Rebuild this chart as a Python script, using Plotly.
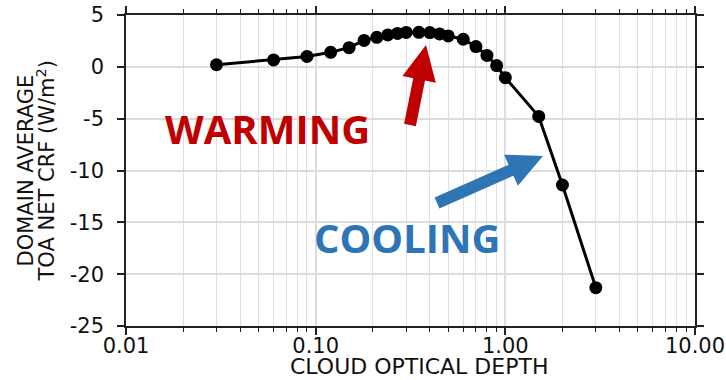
import math
import plotly.graph_objects as go

# ---- data ----
optical_depth = [0.03, 0.06, 0.09, 0.12, 0.15, 0.18, 0.21, 0.24, 0.27, 0.30,
                 0.35, 0.40, 0.45, 0.50, 0.60, 0.70, 0.80, 0.90, 1.0, 1.5, 2.0, 3.0]
net_crf = [0.2, 0.67, 1.0, 1.4, 1.85, 2.55, 2.85, 3.08, 3.22, 3.32,
           3.33, 3.3, 3.17, 2.98, 2.66, 1.95, 1.1, 0.12, -1.05, -4.78, -11.4, -21.3]
x_tickvals = [0.01, 0.1, 1.0, 10.0]
x_ticktext = ["0.01", "0.10", "1.00", "10.00"]
y_tickvals = [5, 0, -5, -10, -15, -20, -25]
y_ticktext = ["5", "0", "-5", "-10", "-15", "-20", "-25"]

# ---- layout geometry (pixels) ----
W, H = 726, 380
L, R, T, B = 126, 695, 15, 326


def px2paper(px, py):
    return (px - L) / (R - L), (B - py) / (B - T)


def arrow_path(tail, tip, shaft_hw=6, head_hw=17, head_len=35):
    dx, dy = tip[0] - tail[0], tip[1] - tail[1]
    ln = math.hypot(dx, dy)
    ux, uy = dx / ln, dy / ln
    nx, ny = -uy, ux
    bx, by = tip[0] - head_len * ux, tip[1] - head_len * uy
    pts = [
        (tail[0] + shaft_hw * nx, tail[1] + shaft_hw * ny),
        (bx + shaft_hw * nx, by + shaft_hw * ny),
        (bx + head_hw * nx, by + head_hw * ny),
        tip,
        (bx - head_hw * nx, by - head_hw * ny),
        (bx - shaft_hw * nx, by - shaft_hw * ny),
        (tail[0] - shaft_hw * nx, tail[1] - shaft_hw * ny),
    ]
    pp = [px2paper(*p) for p in pts]
    return "M " + " L ".join(f"{a:.5f},{b:.5f}" for a, b in pp) + " Z"


fig = go.Figure()
fig.add_trace(go.Scatter(
    x=optical_depth, y=net_crf, mode="lines+markers",
    line=dict(color="black", width=3),
    marker=dict(color="black", size=13),
    showlegend=False,
))

tick_font = dict(family="DejaVu Sans", size=21, color="#111111")

fig.update_xaxes(
    type="log", range=[-2, 1],
    tickvals=x_tickvals, ticktext=x_ticktext,
    ticks="outside", ticklen=7, tickwidth=1.5, tickcolor="#222",
    showline=True, linecolor="#222", linewidth=1.5, mirror="allticks",
    showgrid=True, gridcolor="#dcdcdc", gridwidth=1.5,
    minor=dict(ticks="outside", ticklen=4, tickwidth=1, tickcolor="#222",
               showgrid=True, gridcolor="#e0e0e0", gridwidth=1.3,
               dtick="D1"),
    tickfont=tick_font, zeroline=False, ticklabelstandoff=-7,
)
fig.update_yaxes(
    range=[-25, 5], tickvals=y_tickvals, ticktext=y_ticktext,
    ticks="outside", ticklen=7, tickwidth=1.5, tickcolor="#222",
    showline=True, linecolor="#222", linewidth=1.5, mirror="allticks",
    showgrid=True, gridcolor="#dcdcdc", gridwidth=1.5,
    tickfont=tick_font, zeroline=False, ticklabelstandoff=9,
)

# x-axis title
xtx, xty = px2paper(419, 380)
fig.add_annotation(x=xtx, y=xty, xref="paper", yref="paper", showarrow=False,
                   text="CLOUD OPTICAL DEPTH",
                   font=dict(family="DejaVu Sans", size=22, color="#111111"),
                   xanchor="center", yanchor="bottom", borderpad=0)

# y-axis title, two rotated lines centred on the axis
ymid = (T + B) / 2
title_font = dict(family="DejaVu Sans", size=21, color="#111111")
for text, px in [("DOMAIN AVERAGE", 25), ("TOA NET CRF (W/m<sup>2</sup>)", 45)]:
    ax_, ay_ = px2paper(px, ymid)
    fig.add_annotation(x=ax_, y=ay_, xref="paper", yref="paper", showarrow=False,
                       text=text, textangle=-90, font=title_font,
                       xanchor="center", yanchor="middle")

# labels
wx, wy = px2paper(267, 128)
fig.add_annotation(x=wx, y=wy, xref="paper", yref="paper", showarrow=False,
                   text="<b>WARMING</b>", xanchor="center", yanchor="middle",
                   font=dict(family="Open Sans", size=40, color="#C00000"))
cx, cy = px2paper(407, 237)
fig.add_annotation(x=cx, y=cy, xref="paper", yref="paper", showarrow=False,
                   text="<b>COOLING</b>", xanchor="center", yanchor="middle",
                   font=dict(family="Open Sans", size=40, color="#2E75B6"))

fig.add_shape(type="path", xref="paper", yref="paper",
              path=arrow_path((410, 125), (426, 45)),
              fillcolor="#C00000", line=dict(width=0))
fig.add_shape(type="path", xref="paper", yref="paper",
              path=arrow_path((437, 203), (543, 156)),
              fillcolor="#2E75B6", line=dict(width=0))

fig.update_layout(
    width=W, height=H,
    margin=dict(l=L, r=W - R, t=T, b=H - B, autoexpand=False),
    paper_bgcolor="white", plot_bgcolor="white",
)

fig.write_html("out.html")
